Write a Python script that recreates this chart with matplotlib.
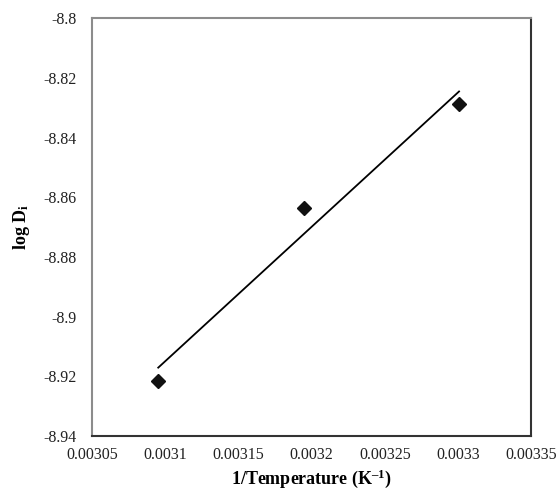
import numpy as np
import matplotlib
matplotlib.use("Agg")
import matplotlib.pyplot as plt

plt.rcParams["font.family"] = ["Liberation Serif", "DejaVu Serif"]
plt.rcParams["mathtext.fontset"] = "custom"
plt.rcParams["mathtext.rm"] = "Liberation Serif"
plt.rcParams["mathtext.bf"] = "Liberation Serif:bold"
plt.rcParams["mathtext.default"] = "bf"

# Datos
inv_temp = [0.0030952, 0.0031945, 0.0033007]
log_d = [-8.9216, -8.8636, -8.8288]

x_ticks = [0.00305, 0.0031, 0.00315, 0.0032, 0.00325, 0.0033, 0.00335]
x_labels = ["0.00305", "0.0031", "0.00315", "0.0032", "0.00325", "0.0033", "0.00335"]
y_ticks = [-8.94, -8.92, -8.9, -8.88, -8.86, -8.84, -8.82, -8.8]
y_labels = ["-8.94", "-8.92", "-8.9", "-8.88", "-8.86", "-8.84", "-8.82", "-8.8"]

fig = plt.figure(figsize=(5.58, 4.9), dpi=100)
ax = fig.add_axes([0.165, 0.11, 0.787, 0.853])

# Recta de ajuste lineal
pendiente, ordenada = np.polyfit(inv_temp, log_d, 1)
xs = np.array([min(inv_temp), max(inv_temp)])
ax.plot(xs, pendiente * xs + ordenada, color="black", linewidth=1.3)

ax.plot(inv_temp, log_d, linestyle="none", marker="D", markersize=7,
        color="#111111")

ax.set_xlim(0.00305, 0.00335)
ax.set_ylim(-8.94, -8.8)
ax.set_xticks(x_ticks)
ax.set_xticklabels(x_labels)
ax.set_yticks(y_ticks)
ax.set_yticklabels(y_labels)
ax.tick_params(length=0, labelsize=11.5, colors="#222222")
ax.tick_params(axis="y", pad=11)
ax.tick_params(axis="x", pad=8)

for lado in ["top", "left"]:
    ax.spines[lado].set_color("#8c8c8c")
    ax.spines[lado].set_linewidth(1.5)
for lado in ["right", "bottom"]:
    ax.spines[lado].set_color("#333333")
    ax.spines[lado].set_linewidth(1.5)

ax.set_xlabel("1/Temperature (K$^{\u2013\\mathbf{1}}$)", fontsize=13,
              fontweight="bold", labelpad=3)
ax.set_ylabel("log D$_\\mathbf{i}$", fontsize=13, fontweight="bold",
              labelpad=8)

plt.savefig("out.png", dpi=100)
plt.close()
